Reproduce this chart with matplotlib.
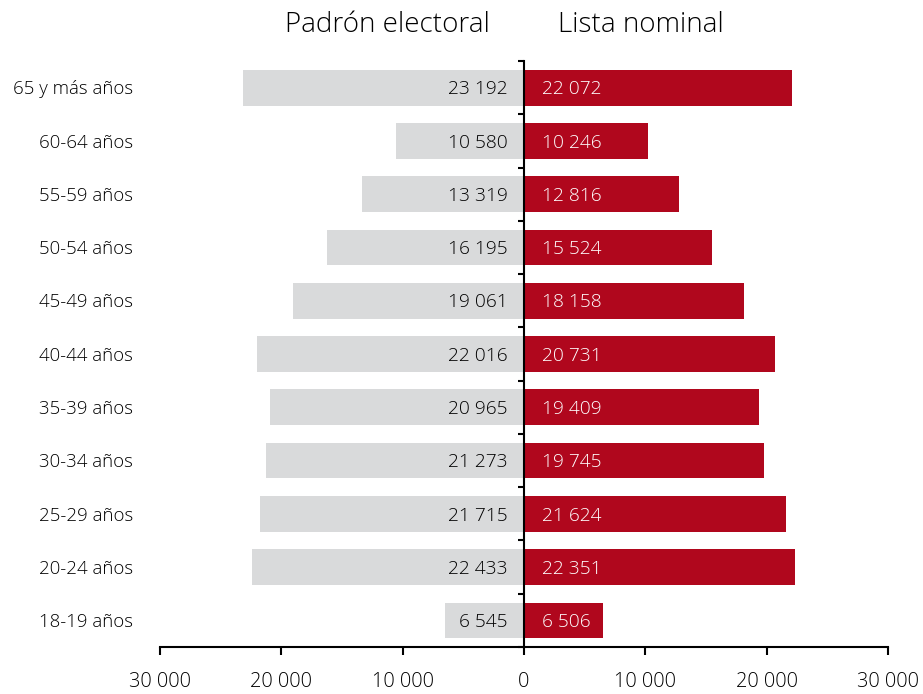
import matplotlib
matplotlib.use("Agg")
import matplotlib.pyplot as plt
import numpy as np
from matplotlib.transforms import blended_transform_factory

plt.rcParams['font.family'] = ['Open Sans', 'DejaVu Sans']

categories = ["18-19 años", "20-24 años", "25-29 años", "30-34 años", "35-39 años",
              "40-44 años", "45-49 años", "50-54 años", "55-59 años", "60-64 años",
              "65 y más años"]
padron = [6545, 22433, 21715, 21273, 20965, 22016, 19061, 16195, 13319, 10580, 23192]
lista = [6506, 22351, 21624, 19745, 19409, 20731, 18158, 15524, 12816, 10246, 22072]
xticks = [-30000, -20000, -10000, 0, 10000, 20000, 30000]
xticklabels = ["30 000", "20 000", "10 000", "0", "10 000", "20 000", "30 000"]

grey = "#D9DADB"
red = "#B0071D"

def fmt(v):
    return f"{v:,}".replace(",", " ")

fig = plt.figure(figsize=(9.23, 6.94), dpi=100)
ax = fig.add_axes([0.1733, 0.0677, 0.962 - 0.1733, 0.912 - 0.0677])

y = np.arange(len(categories))
ax.barh(y, [-v for v in padron], height=0.67, color=grey, zorder=1)
ax.barh(y, lista, height=0.67, color=red, zorder=1)

for yi, p, l in zip(y, padron, lista):
    ax.annotate(fmt(p), (0, yi), xytext=(-11.5, -1.2), textcoords="offset points",
                ha="right", va="center", fontsize=13.8, color="black", fontweight="light")
    ax.annotate(fmt(l), (0, yi), xytext=(13, -1.2), textcoords="offset points",
                ha="left", va="center", fontsize=13.8, color="white", fontweight="light")

ax.set_xlim(-30000, 30000)
ax.set_ylim(-0.5, len(categories) - 0.5)

# center spine
ax.spines['left'].set_position(('data', 0))
ax.spines['left'].set_linewidth(1.5)
ax.spines['left'].set_zorder(3)
ax.spines['right'].set_visible(False)
ax.spines['top'].set_visible(False)
ax.spines['bottom'].set_linewidth(1.5)
ax.set_yticks(np.arange(-0.5, len(categories), 1.0))
ax.set_yticklabels([])
ax.tick_params(axis='y', length=4, width=1.5, direction='out')

ax.set_xticks(xticks)
ax.set_xticklabels(xticklabels, fontsize=14.3, fontweight="light", color="black")
ax.tick_params(axis='x', length=6, width=1.5, direction='out', pad=12)

trans = blended_transform_factory(fig.transFigure, ax.transData)
for yi, c in zip(y, categories):
    ax.annotate(c, (133 / 923, yi), xycoords=trans, xytext=(0, -1.2), textcoords="offset points",
                ha="right", va="center", fontsize=13.4, fontweight="light", color="black")

fig.text(387 / 923, 1 - 25 / 694, "Padrón electoral", ha="center", va="center",
         fontsize=20, fontweight="light", color="black")
fig.text(641 / 923, 1 - 25 / 694, "Lista nominal", ha="center", va="center",
         fontsize=20, fontweight="light", color="black")

fig.savefig("out.png", dpi=100)
